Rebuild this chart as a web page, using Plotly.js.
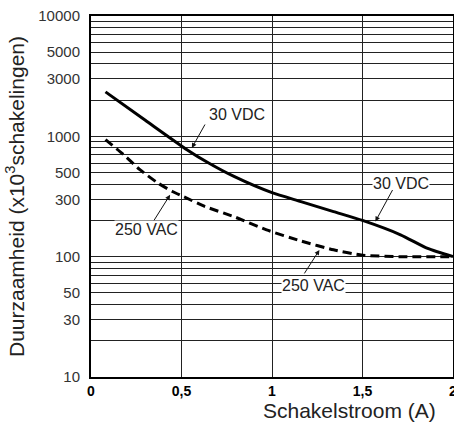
<!DOCTYPE html>
<html>
<head>
<meta charset="utf-8">
<script src="https://cdn.plot.ly/plotly-3.0.1.min.js"></script>
<style>html,body{margin:0;padding:0;background:#fff;}#chart{width:454px;height:423px;}</style>
</head>
<body>
<div id="chart"></div>
<script>
// Schakelstroom (A)
var solidX = [0.08, 0.30, 0.53, 0.65, 0.79, 1.00, 1.16, 1.34, 1.50, 1.71, 1.86, 2.00];
// Duurzaamheid 30 VDC (x10^3 schakelingen)
var solidY = [2340, 1360, 775, 600, 464, 340, 287, 237, 200, 152, 117, 100];
var dashX = [0.08, 0.18, 0.27, 0.37, 0.45, 0.51, 0.63, 0.79, 0.97, 1.16, 1.34, 1.50, 1.71, 2.00];
// Duurzaamheid 250 VAC
var dashY = [940, 705, 528, 409, 348, 316, 261, 215, 167, 135, 114, 103, 100, 100];

var xTickVals = [0, 0.5, 1, 1.5, 2];
var xTickText = ['0', '0,5', '1', '1,5', '2'];
var yLabelVals = [10, 30, 50, 100, 300, 500, 1000, 3000, 5000, 10000];
var yGridVals = [10,20,30,40,50,60,70,80,90,100,200,300,400,500,600,700,800,900,1000,2000,3000,4000,5000,6000,7000,8000,9000,10000];
var yTickText = yGridVals.map(function(v){ return yLabelVals.indexOf(v) >= 0 ? String(v) : ''; });

var FONT = '"Liberation Sans", Arial, Helvetica, sans-serif';

var traces = [
  {x: solidX, y: solidY, mode: 'lines', name: '30 VDC',
   line: {color: '#000', width: 3, shape: 'spline', smoothing: 0.6}},
  {x: dashX, y: dashY, mode: 'lines', name: '250 VAC',
   line: {color: '#000', width: 3, dash: '9px,5px', shape: 'spline', smoothing: 0.6}}
];

var annotations = [
  // labels
  {x: 0.807, y: 3.185, xref: 'x', yref: 'y', text: '30 VDC', showarrow: false,
   font: {family: FONT, size: 16, color: '#222'}},
  {x: 1.714, y: 2.612, xref: 'x', yref: 'y', text: '30 VDC', showarrow: false, bgcolor: '#fff', borderpad: 0,
   font: {family: FONT, size: 16, color: '#222'}},
  {x: 0.307, y: 2.2225, xref: 'x', yref: 'y', text: '250 VAC', showarrow: false, bgcolor: '#fff', borderpad: 0,
   font: {family: FONT, size: 16, color: '#222'}},
  {x: 1.230, y: 1.764, xref: 'x', yref: 'y', text: '250 VAC', showarrow: false, bgcolor: '#fff', borderpad: 0,
   font: {family: FONT, size: 16, color: '#222'}},
  // leader arrows
  {x: 0.557, y: 2.903, xref: 'x', yref: 'y', text: '', showarrow: true, ax: 14, ay: -25,
   arrowhead: 2, arrowsize: 1, arrowwidth: 1, arrowcolor: '#111', standoff: 0, startstandoff: 0},
  {x: 1.571, y: 2.292, xref: 'x', yref: 'y', text: '', showarrow: true, ax: 18, ay: -33,
   arrowhead: 2, arrowsize: 1, arrowwidth: 1, arrowcolor: '#111', standoff: 0, startstandoff: 0},
  {x: 0.437, y: 2.514, xref: 'x', yref: 'y', text: '', showarrow: true, ax: -17, ay: 27,
   arrowhead: 2, arrowsize: 1, arrowwidth: 1, arrowcolor: '#111', standoff: 0, startstandoff: 0},
  {x: 1.262, y: 2.056, xref: 'x', yref: 'y', text: '', showarrow: true, ax: -16, ay: 25,
   arrowhead: 2, arrowsize: 1, arrowwidth: 1, arrowcolor: '#111', standoff: 0, startstandoff: 0},
  // x axis title (right-aligned in the original)
  {x: 0.715, y: -0.094, xref: 'paper', yref: 'paper', xanchor: 'center', yanchor: 'middle',
   text: 'Schakelstroom (A)', showarrow: false, font: {family: FONT, size: 21, color: '#222'}}
];

var layout = {
  width: 454, height: 423,
  margin: {l: 91, r: 1, t: 16, b: 46, pad: 0},
  paper_bgcolor: '#fff', plot_bgcolor: '#fff',
  showlegend: false,
  font: {family: FONT, color: '#222'},
  xaxis: {
    range: [0, 2], tickmode: 'array', tickvals: xTickVals, ticktext: xTickText,
    showgrid: true, gridcolor: '#222', gridwidth: 1, zeroline: false,
    showline: true, linecolor: '#000', linewidth: 2, mirror: true,
    ticks: '', ticklabeloverflow: 'allow',
    tickfont: {family: FONT, size: 14, color: '#000', weight: 'bold'},
    automargin: false, fixedrange: true
  },
  yaxis: {
    type: 'log', range: [1, 4], tickmode: 'array', tickvals: yGridVals, ticktext: yTickText,
    showgrid: true, gridcolor: '#222', gridwidth: 1, zeroline: false,
    showline: true, linecolor: '#000', linewidth: 2, mirror: true,
    ticks: '', ticklabelstandoff: 6, tickfont: {family: FONT, size: 15, color: '#333'},
    title: {text: 'Duurzaamheid (x10<sup>3</sup>schakelingen)', font: {family: FONT, size: 21, color: '#222'}, standoff: 8},
    automargin: false, fixedrange: true
  },
  annotations: annotations
};

Plotly.newPlot('chart', traces, layout, {staticPlot: true, displayModeBar: false});
</script>
</body>
</html>
